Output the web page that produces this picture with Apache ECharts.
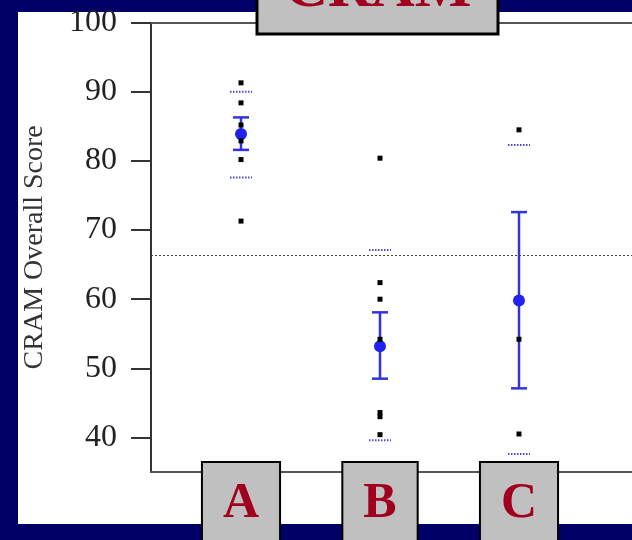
<!DOCTYPE html>
<html>
<head>
<meta charset="utf-8">
<script src="https://cdn.jsdelivr.net/npm/echarts@6/dist/echarts.min.js"></script>
<style>html,body{margin:0;padding:0;background:#000066;}#c{width:632px;height:540px;}</style>
</head>
<body>
<div id="c"></div>
<script>
const categories = ['A', 'B', 'C'];
const yTickLabels = [40, 50, 60, 70, 80, 90, 100];
const pointsA = [91.3, 88.4, 85.2, 82.9, 80.2, 71.3];
const pointsB = [80.4, 62.4, 60.0, 54.2, 43.6, 43.0, 40.4];
const pointsC = [84.5, 54.2, 40.5];
const means = [83.9, 53.2, 59.8];
const errLow = [81.6, 48.5, 47.1];
const errHigh = [86.3, 58.1, 72.6];
const dotUpper = [90.0, 67.1, 82.3];
const dotLower = [77.6, 39.6, 37.6];
const referenceLine = 66.3;
const titleText = 'CRAM';
const yAxisTitle = 'CRAM Overall Score';

const chart = echarts.init(document.getElementById('c'), null, {renderer: 'canvas'});

const allPoints = [pointsA, pointsB, pointsC];
const scatterData = [];
allPoints.forEach((arr, i) => arr.forEach(v => scatterData.push([i + 1, v])));
const meanData = means.map((v, i) => [i + 1, v]);
const errData = categories.map((c, i) => [i + 1, errLow[i], errHigh[i]]);
const dotData = [];
categories.forEach((c, i) => { dotData.push([i + 1, dotUpper[i]]); dotData.push([i + 1, dotLower[i]]); });

const serif = '"Liberation Serif", "Times New Roman", serif';
const xMin = 0.3525, xMax = 3.813;

chart.setOption({
  backgroundColor: '#000066',
  animation: false,
  graphic: [
    {type: 'rect', z: -100, shape: {x: 18, y: 12, width: 614, height: 512}, style: {fill: '#ffffff'}},
    {type: 'rect', z: 100, shape: {x: 257, y: -10, width: 241, height: 44}, style: {fill: '#c0c0c0', stroke: '#000', lineWidth: 3}},
    {type: 'text', z: 101, x: 378, y: 20, style: {text: titleText, fill: '#a0001e', font: 'bold 60px ' + serif, align: 'center', verticalAlign: 'bottom'}}
  ],
  grid: {left: 151, right: 0, top: 22.7, bottom: 68, containLabel: false, outerBoundsMode: 'none'},
  xAxis: [
    {
      type: 'value', min: xMin, max: xMax, position: 'bottom',
      axisLine: {show: true, onZero: false, lineStyle: {color: '#555', width: 2}},
      axisTick: {show: false}, splitLine: {show: false},
      axisLabel: {
        customValues: categories.map((c, i) => i + 1),
        formatter: v => categories[Math.round(v) - 1] || '',
        margin: -9,
        fontFamily: serif, fontWeight: 'bold', fontSize: 50, color: '#a0001e',
        backgroundColor: '#c0c0c0', borderColor: '#000', borderWidth: 2,
        lineHeight: 50, padding: [16, 20, 30, 20]
      }
    },
    {
      type: 'value', min: xMin, max: xMax, position: 'top',
      axisLine: {show: true, onZero: false, lineStyle: {color: '#555', width: 2}},
      axisTick: {show: false}, splitLine: {show: false}, axisLabel: {show: false}
    }
  ],
  yAxis: {
    type: 'value', min: 35, max: 100,
    name: yAxisTitle, nameLocation: 'middle', nameGap: 102,
    nameTextStyle: {fontFamily: serif, fontSize: 28, color: '#333'},
    axisLine: {show: true, lineStyle: {color: '#333', width: 2}},
    axisTick: {show: true, length: 20, inside: false, customValues: yTickLabels, lineStyle: {color: '#333', width: 2}},
    axisLabel: {customValues: yTickLabels, margin: 34, fontFamily: serif, fontSize: 32, color: '#222'},
    splitLine: {show: false}
  },
  series: [
    {
      type: 'line', data: [], xAxisIndex: 0,
      markLine: {
        silent: true, symbol: 'none', label: {show: false},
        lineStyle: {type: [2, 2], color: '#444', width: 1},
        data: [{yAxis: referenceLine}]
      }
    },
    {
      type: 'custom', xAxisIndex: 0, z: 3,
      data: dotData,
      renderItem: (params, api) => {
        const p = api.coord([api.value(0), api.value(1)]);
        return {type: 'line', shape: {x1: p[0] - 11, y1: p[1], x2: p[0] + 11, y2: p[1]},
          style: {stroke: '#4a4ad0', lineWidth: 2, lineDash: [1.5, 1.5]}};
      }
    },
    {
      type: 'custom', xAxisIndex: 0, z: 4,
      data: errData,
      renderItem: (params, api) => {
        const x = api.value(0);
        const lo = api.coord([x, api.value(1)]);
        const hi = api.coord([x, api.value(2)]);
        const st = {stroke: '#3333dd', lineWidth: 2.5};
        return {type: 'group', children: [
          {type: 'line', shape: {x1: lo[0], y1: lo[1], x2: hi[0], y2: hi[1]}, style: st},
          {type: 'line', shape: {x1: hi[0] - 8, y1: hi[1], x2: hi[0] + 8, y2: hi[1]}, style: st},
          {type: 'line', shape: {x1: lo[0] - 8, y1: lo[1], x2: lo[0] + 8, y2: lo[1]}, style: st}
        ]};
      }
    },
    {
      type: 'scatter', xAxisIndex: 0, z: 5,
      data: meanData, symbol: 'circle', symbolSize: 12,
      itemStyle: {color: '#2222ee', opacity: 1}
    },
    {
      type: 'scatter', xAxisIndex: 0, z: 6,
      data: scatterData, symbol: 'rect', symbolSize: 5,
      itemStyle: {color: '#000', opacity: 1}
    }
  ]
});
</script>
</body>
</html>
